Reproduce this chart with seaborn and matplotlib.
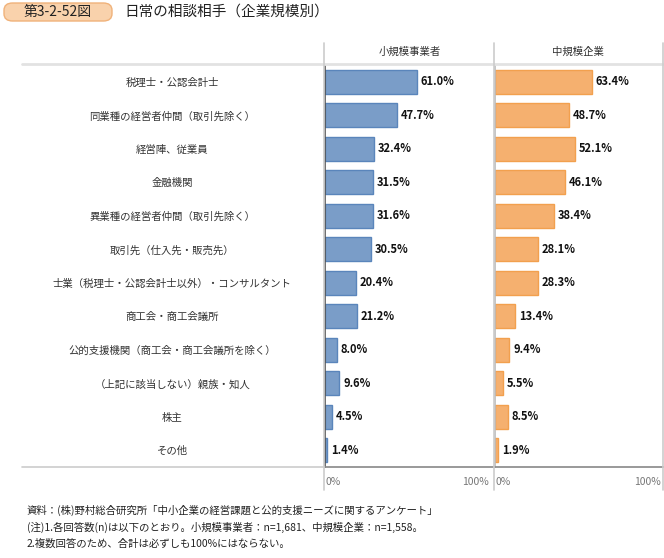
import matplotlib
matplotlib.use("Agg")
import matplotlib.pyplot as plt
from matplotlib.lines import Line2D
from matplotlib.patches import FancyBboxPatch
import seaborn as sns
import pandas as pd

sns.set_theme(style="white")
plt.rcParams['font.family'] = ['Noto Sans CJK JP', 'DejaVu Sans']

categories = [
    "税理士・公認会計士",
    "同業種の経営者仲間（取引先除く）",
    "経営陣、従業員",
    "金融機関",
    "異業種の経営者仲間（取引先除く）",
    "取引先（仕入先・販売先）",
    "士業（税理士・公認会計士以外）・コンサルタント",
    "商工会・商工会議所",
    "公的支援機関（商工会・商工会議所を除く）",
    "（上記に該当しない）親族・知人",
    "株主",
    "その他",
]
small_vals = [61.0, 47.7, 32.4, 31.5, 31.6, 30.5, 20.4, 21.2, 8.0, 9.6, 4.5, 1.4]
medium_vals = [63.4, 48.7, 52.1, 46.1, 38.4, 28.1, 28.3, 13.4, 9.4, 5.5, 8.5, 1.9]
panel_titles = ["小規模事業者", "中規模企業"]
tick_labels = ["0%", "100%"]

W, H = 664, 558
fig = plt.figure(figsize=(W / 100, H / 100), dpi=100)

def fx(px):
    return px / W

def fy(py):
    return 1 - py / H

top, bottom = 65, 467
ax1 = fig.add_axes([fx(325), fy(bottom), fx(494 - 325), fy(top) - fy(bottom)])
ax2 = fig.add_axes([fx(495), fy(bottom), fx(663 - 495), fy(top) - fy(bottom)])

df_s = pd.DataFrame({"category": categories, "value": small_vals})
df_m = pd.DataFrame({"category": categories, "value": medium_vals})

specs = [
    (ax1, df_s, "#7a9dc8", "#5a85bb", 112, "#555555"),
    (ax2, df_m, "#f5b06f", "#f2a04e", 110, "#bbbbbb"),
]
for ax, df, fc, ec, xmax, lcol in specs:
    sns.barplot(data=df, x="value", y="category", ax=ax, color=fc,
                edgecolor=ec, linewidth=1.0, width=0.72, orient="h",
                saturation=1, errorbar=None)
    ax.set_xlim(0, xmax)
    ax.set_ylim(len(categories) - 0.5, -0.5)
    ax.set_xlabel("")
    ax.set_ylabel("")
    for s in ["top", "right"]:
        ax.spines[s].set_visible(False)
    ax.spines["left"].set_color(lcol)
    ax.spines["left"].set_linewidth(1.2)
    ax.spines["bottom"].set_color("#888888")
    ax.spines["bottom"].set_linewidth(1.2)
    ax.set_xticks([0, 100])
    ax.set_xticklabels(tick_labels, color="#777777", fontsize=7.5)
    ax.get_xticklabels()[0].set_horizontalalignment("left")
    ax.tick_params(axis="x", direction="in", length=4, width=1, color="#333333", pad=7)
    ax.patch.set_alpha(0)
    for i, v in enumerate(df["value"]):
        ax.text(v + 2.5, i, f"{v:.1f}%", va="center", ha="left",
                fontsize=8, fontweight="bold", color="#111111")

ax1.tick_params(axis="y", length=0, pad=110)
for lab in ax1.get_yticklabels():
    lab.set_horizontalalignment("center")
    lab.set_fontsize(7.5)
    lab.set_color("#333333")
ax2.set_yticks([])

# panel headers
fig.text(fx(410), fy(52), panel_titles[0], ha="center", va="center", fontsize=7.5, color="#333333")
fig.text(fx(578), fy(52), panel_titles[1], ha="center", va="center", fontsize=7.5, color="#333333")

# frame lines
fig.add_artist(Line2D([fx(22), fx(664)], [fy(64), fy(64)], color="#e2e2e2", lw=2))
fig.add_artist(Line2D([fx(22), fx(324)], [fy(467), fy(467)], color="#cccccc", lw=1.2))
for xx in [324, 494, 663]:
    fig.add_artist(Line2D([fx(xx), fx(xx)], [fy(43), fy(490)], color="#cccccc", lw=1.2))

# title badge
badge = FancyBboxPatch((fx(4), fy(21)), fx(108), fy(3) - fy(21),
                       boxstyle="round,pad=0,rounding_size=0.013",
                       transform=fig.transFigure, facecolor="#f9d2ac",
                       edgecolor="#f0b27a", lw=1)
fig.add_artist(badge)
fig.text(fx(58), fy(12), "第3-2-52図", ha="center", va="center", fontsize=10, color="#222222")
fig.text(fx(124), fy(12), "日常の相談相手（企業規模別）", ha="left", va="center", fontsize=10.5, color="#222222")

# notes
notes = [
    "資料：(株)野村総合研究所「中小企業の経営課題と公的支援ニーズに関するアンケート」",
    "(注)1.各回答数(n)は以下のとおり。小規模事業者：n=1,681、中規模企業：n=1,558。",
    "2.複数回答のため、合計は必ずしも100%にはならない。",
]
for k, t in enumerate(notes):
    fig.text(fx(27), fy(510 + k * 17), t, ha="left", va="center", fontsize=7.5, color="#222222")

fig.savefig("out.png", dpi=100)
